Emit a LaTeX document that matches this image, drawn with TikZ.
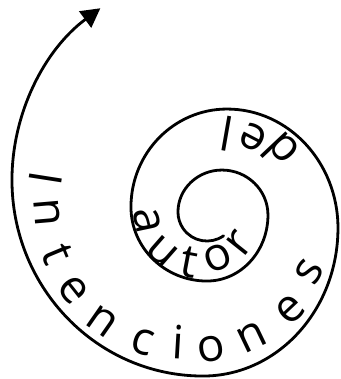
\documentclass[tikz,border=0pt]{standalone}
\usepackage{fontspec}
\setmainfont{Open Sans}
\usetikzlibrary{arrows.meta,calc}

\begin{document}
\begin{tikzpicture}[x=1pt, y=1pt,
  spiral/.style={line width=2.8pt, line cap=round},
  arr/.style={-{Triangle[length=19pt, width=20pt]}},
  letter/.style={inner sep=0pt, font=\fontsize{46}{46}\selectfont, rotate=#1+90}]
  \useasboundingbox (0,0) rectangle (340,379);
  % centres of the three rows of text
  \coordinate (cI) at (186.4,178.9);
  \coordinate (cD) at (213,165);
  \coordinate (cA) at (198.7,168.9);
  % spiral, from the inside out
  \draw[spiral, arr] (223.6,143.2)
    arc[start angle=-55, end angle=-180, radius=29]
    arc[start angle=180, end angle=90, x radius=44, y radius=42]
    arc[start angle=90, end angle=0, x radius=46, y radius=45]
    arc[start angle=0, end angle=-90, x radius=61, y radius=66]
    arc[start angle=-90, end angle=-180, x radius=76, y radius=74]
    arc[start angle=180, end angle=90, x radius=96, y radius=98]
    arc[start angle=90, end angle=0, x radius=111, y radius=119]
    arc[start angle=0, end angle=-90, x radius=135, y radius=148]
    arc[start angle=-90, end angle=-180, x radius=191, y radius=196]
    arc[start angle=180, end angle=128, x radius=230, y radius=218];
  % Intenciones
  \foreach \ch/\a/\r [count=\i] in {I/171.1/142.1, n/184.9/139.9, t/202.6/140.2,
      e/218.4/144.7, n/235.1/147.4, c/253.0/148.4, i/266.6/142.2, o/279.4/150.9,
      n/295.6/151.8, e/313.3/151.0, s/329.6/142.1}
    \node[letter=\a] (int\i) at ($(cI)+(\a:\r)$) {\ch};
  % del
  \foreach \ch/\a/\r [count=\i] in {d/43.2/92.0, e/62.5/86.8, l/80.1/81.2}
    \node[letter=\a] (del\i) at ($(cD)+(\a:\r)$) {\ch};
  % autor
  \foreach \ch/\a/\r [count=\i] in {a/191.9/52.8, u/228.8/55.7, t/259.4/52.8,
      o/291.9/51.6, r/321.5/52.8}
    \node[letter=\a] (aut\i) at ($(cA)+(\a:\r)$) {\ch};
\end{tikzpicture}
\end{document}
